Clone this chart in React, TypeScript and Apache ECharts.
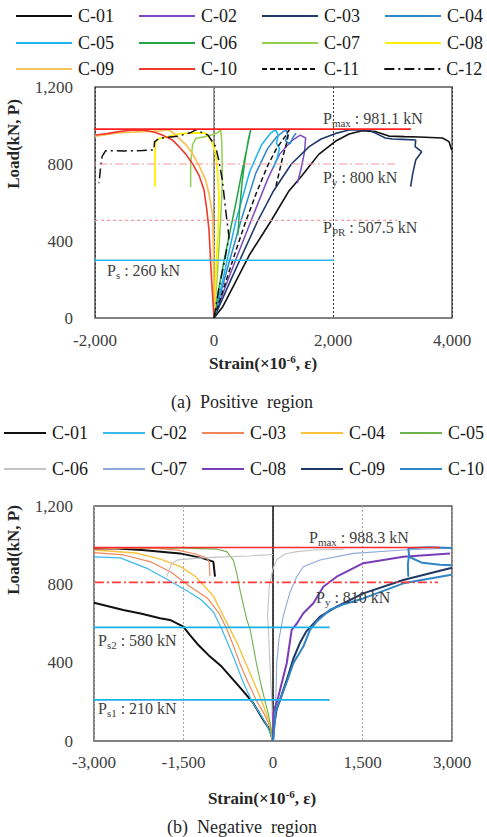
import { useEffect, useRef } from 'react';
import * as echarts from 'echarts';

const FONT = '"Liberation Serif", "Times New Roman", serif';

// ---------------- (a) Positive region ----------------
const A_X_RANGE = [-2000, 4000];
const A_X_STEP = 2000;
const A_Y_RANGE = [0, 1200];
const A_Y_STEP = 400;
const A_NAMES = ['C-01', 'C-02', 'C-03', 'C-04', 'C-05', 'C-06', 'C-07', 'C-08', 'C-09', 'C-10', 'C-11', 'C-12'];

const A_C01 = [[0, 0], [150, 60], [300, 150], [600, 330], [950, 500], [1260, 660], [1480, 740], [1760, 850], [2040, 918], [2270, 956], [2490, 973], [2720, 968], [2940, 945], [3200, 942], [3450, 940], [3840, 935], [3950, 916], [3995, 873]];
const A_C02 = [[0, 0], [200, 170], [400, 330], [616, 500], [900, 720], [1100, 850], [1300, 920], [1450, 950], [1540, 935], [1520, 860], [1460, 770], [1400, 700]];
const A_C03 = [[0, 0], [300, 210], [728, 500], [1000, 660], [1300, 800], [1600, 890], [1800, 930], [2045, 959], [2270, 977], [2600, 977], [2720, 959], [2880, 935], [3000, 930], [3165, 928], [3390, 925], [3380, 890], [3490, 864], [3390, 821], [3340, 750], [3305, 682]];
const A_C04 = [[0, 0], [200, 230], [448, 500], [700, 750], [900, 880], [1050, 940], [1150, 965], [1210, 977], [1240, 950], [1200, 920], [1280, 905], [1330, 940], [1380, 960]];
const A_C05 = [[0, 0], [150, 200], [364, 500], [600, 760], [800, 900], [950, 960], [1036, 977], [1080, 950], [1050, 910], [1100, 880], [1060, 830], [1000, 780]];
const A_C06 = [[0, 0], [80, 150], [170, 300], [270, 450], [370, 600], [470, 760], [560, 890], [616, 977], [580, 930], [520, 820], [470, 700], [430, 560], [400, 430]];
const A_C07 = [[0, 0], [50, 200], [84, 370], [120, 560], [140, 717], [135, 850], [129, 925], [112, 977], [50, 960], [-100, 945], [-308, 933], [-360, 900], [-392, 803], [-392, 740], [-392, 680]];
const A_C08 = [[0, 0], [39, 284], [70, 450], [84, 630], [60, 760], [28, 855], [-40, 920], [-140, 960], [-300, 962], [-588, 956], [-800, 940], [-924, 933], [-980, 915], [-992, 860], [-992, 760], [-992, 682]];
const A_C09 = [[0, 0], [0, 145], [-10, 350], [-28, 544], [-80, 640], [-140, 717], [-250, 790], [-364, 855], [-470, 900], [-588, 933], [-680, 960], [-756, 977], [-900, 972], [-1200, 968], [-1600, 962], [-2000, 945]];
const A_C10 = [[0, 0], [-20, 100], [-50, 250], [-84, 457], [-120, 560], [-168, 665], [-250, 740], [-364, 803], [-470, 850], [-588, 890], [-700, 925], [-869, 951], [-1000, 965], [-1205, 977], [-1400, 975], [-1597, 968], [-1800, 958], [-1989, 951]];
const A_C11 = [[0, 0], [200, 190], [400, 380], [532, 500], [700, 640], [900, 790], [1050, 880], [1200, 945], [1260, 977], [1230, 920], [1150, 830], [1040, 682]];
const A_C12 = [[0, 0], [80, 150], [180, 300], [252, 422], [200, 550], [140, 717], [80, 820], [28, 890], [-100, 950], [-308, 977], [-400, 962], [-600, 945], [-924, 933], [-1000, 915], [-1008, 873], [-1200, 870], [-1500, 868], [-1820, 869], [-1880, 840], [-1905, 786], [-1933, 700]];
const A_DATA = [A_C01, A_C02, A_C03, A_C04, A_C05, A_C06, A_C07, A_C08, A_C09, A_C10, A_C11, A_C12];

const A_PMAX = 981.1;
const A_PY = 800;
const A_PPR = 507.5;
const A_PS_LABEL = 260;
const A_PS_LINE = 300; // where the line is drawn in the picture
const A_REF_FROM = -2200;
const A_PMAX_TO = 3310;
const A_PY_TO = 3075;
const A_PPR_TO = 3075;
const A_PS_TO = 2017;

// ---------------- (b) Negative region ----------------
const B_X_RANGE = [-3000, 3000];
const B_X_STEP = 1500;
const B_Y_RANGE = [0, 1200];
const B_Y_STEP = 400;
const B_NAMES = ['C-01', 'C-02', 'C-03', 'C-04', 'C-05', 'C-06', 'C-07', 'C-08', 'C-09', 'C-10'];

const B_C01 = [[0, 0], [-60, 60], [-162, 107], [-330, 193], [-500, 255], [-665, 312], [-860, 380], [-1056, 431], [-1250, 490], [-1391, 541], [-1503, 584], [-1726, 618], [-1894, 627], [-2200, 650], [-2509, 669], [-3000, 706]];
const B_C01_TOP = [[-3000, 982], [-2676, 984], [-2200, 975], [-1559, 958], [-1200, 935], [-1000, 916], [-972, 839]];
const B_C02 = [[0, 0], [-100, 80], [-200, 130], [-357, 204], [-500, 300], [-650, 420], [-760, 500], [-860, 572], [-1000, 660], [-1200, 720], [-1400, 760], [-1800, 830], [-2100, 880], [-2560, 935], [-3000, 940]];
const B_C03 = [[0, 0], [-60, 80], [-150, 140], [-274, 204], [-420, 300], [-560, 400], [-680, 500], [-776, 572], [-900, 650], [-1100, 730], [-1400, 790], [-1700, 860], [-2050, 915], [-2500, 950], [-3000, 962]];
const B_C03_TOP = [[-3000, 980], [-2500, 985], [-2000, 985], [-1600, 975], [-1300, 955], [-1111, 935], [-1070, 915], [-1056, 843]];
const B_C04 = [[0, 0], [-50, 80], [-110, 140], [-190, 204], [-320, 300], [-460, 400], [-600, 500], [-721, 572], [-850, 650], [-1000, 740], [-1300, 840], [-1550, 890], [-1900, 930], [-2300, 960], [-3000, 975]];
const B_C05 = [[0, 0], [-40, 80], [-80, 140], [-134, 204], [-210, 300], [-280, 400], [-340, 500], [-385, 572], [-440, 620], [-500, 700], [-553, 771], [-610, 860], [-665, 924], [-776, 967], [-950, 980], [-1500, 985], [-3000, 985]];
const B_C06 = [[0, 0], [-20, 200], [-60, 450], [-90, 650], [-60, 800], [0, 880], [60, 925], [200, 955], [400, 967], [700, 975], [1200, 980]];
const B_C06_LEFT = [[-1782, 839], [-1700, 905], [-1600, 925], [-1200, 935], [-800, 940], [-400, 945], [0, 952]];
const B_C07 = [[0, 0], [20, 60], [34, 143], [50, 250], [62, 397], [100, 520], [173, 640], [285, 760], [400, 840], [508, 890], [788, 924], [1346, 958], [2184, 975], [2966, 984]];
const B_C08 = [[0, 0], [6, 141], [89, 226], [230, 397], [313, 567], [400, 600], [508, 652], [676, 703], [843, 788], [1067, 839], [1514, 908], [2184, 941], [2966, 958]];
const B_C09 = [[0, 0], [20, 80], [60, 160], [117, 209], [250, 330], [341, 420], [450, 500], [560, 560], [620, 580], [788, 635], [1067, 686], [1514, 754], [2184, 822], [2966, 882], [3000, 885]];
const B_C10 = [[0, 0], [30, 100], [50, 160], [117, 209], [230, 300], [341, 397], [508, 482], [620, 567], [732, 610], [955, 670], [1200, 700], [1514, 728], [2184, 805], [2966, 848], [3000, 850]];
const B_C10_B = [[2268, 839], [2260, 900], [2280, 950], [2268, 984], [2600, 990], [3000, 985]];
const B_C10_C = [[2280, 941], [2500, 910], [2800, 900], [3000, 897]];
const B_DATA = [B_C01, B_C02, B_C03, B_C04, B_C05, B_C06, B_C07, B_C08, B_C09, B_C10];

const B_PMAX = 988.3;
const B_PY = 810;
const B_PS2 = 580;
const B_PS1 = 210;
const B_REF_FROM = -3270;
const B_PMAX_TO = 2800;
const B_PY_TO = 2765;
const B_PS_TO = 950;

// ---------------- styles ----------------
const A_STYLE = [
  { c: '#111111', w: 1.6 },
  { c: '#7b4cc0', w: 1.5 },
  { c: '#203a6c', w: 1.6 },
  { c: '#2f86c9', w: 1.5 },
  { c: '#1db3ef', w: 1.5 },
  { c: '#22a447', w: 1.5 },
  { c: '#92d050', w: 1.5 },
  { c: '#fff000', w: 1.8 },
  { c: '#f7c35a', w: 1.8 },
  { c: '#ef3a2f', w: 1.6 },
  { c: '#111111', w: 1.5, t: [5, 3] },
  { c: '#111111', w: 1.5, t: [10, 4, 2, 4] },
];
const B_STYLE = [
  { c: '#111111', w: 2 },
  { c: '#3cb8ee', w: 1.2 },
  { c: '#f0875a', w: 1.2 },
  { c: '#f7c23e', w: 1.4 },
  { c: '#6fb14d', w: 1.1 },
  { c: '#c4c4c4', w: 1.1 },
  { c: '#8eaadb', w: 1.1 },
  { c: '#7a3db8', w: 2 },
  { c: '#1f3864', w: 2 },
  { c: '#2f85c5', w: 2 },
];

const fmt = (v: number) => v.toLocaleString('en-US');

function curve(name: string, data: number[][], st: any, idx: number, z = 3) {
  return {
    type: 'line',
    name,
    data,
    xAxisIndex: idx,
    yAxisIndex: idx,
    symbol: 'none',
    showSymbol: false,
    silent: true,
    z,
    lineStyle: { color: st.c, width: st.w, type: st.t || 'solid' },
    itemStyle: { color: st.c },
  };
}

function refLine(y: number, from: number, to: number, idx: number, color: string, width: number, type: any, z = 4) {
  return {
    type: 'line',
    data: [[from, y], [to, y]],
    xAxisIndex: idx,
    yAxisIndex: idx,
    symbol: 'none',
    silent: true,
    clip: false,
    z,
    lineStyle: { color, width, type },
  };
}

function vLine(x: number, y0: number, y1: number, idx: number, color: string, width: number) {
  return {
    type: 'line',
    data: [[x, y0], [x, y1]],
    xAxisIndex: idx,
    yAxisIndex: idx,
    symbol: 'none',
    silent: true,
    z: 2,
    lineStyle: { color, width },
  };
}

const axisLabelStyle = { fontFamily: FONT, fontSize: 17, color: '#404040' };

function legendRow(names: string[], left: number, top: number, itemWidth: number, gap: number) {
  return {
    data: names,
    left,
    top,
    width: 600,
    orient: 'horizontal',
    itemWidth,
    itemHeight: 3,
    itemGap: gap,
    padding: 0,
    selectedMode: false,
    formatter: (n: string) => n.slice(2),
    itemStyle: { opacity: 0 },
    lineStyle: { width: 2 },
    textStyle: { fontFamily: FONT, fontSize: 18, color: '#1a1a1a', padding: [0, 0, 0, 1] },
  };
}

function subLabel(x: number, y: number, main: string, sub: string, rest: string) {
  return {
    type: 'text',
    x,
    y,
    z: 50,
    style: {
      text: `{a|${main}}{b|${sub}}{a|${rest}}`,
      align: 'left',
      verticalAlign: 'middle',
      fill: '#404040',
      rich: {
        a: { fontFamily: FONT, fontSize: 16, lineHeight: 20, fill: '#404040' },
        b: { fontFamily: FONT, fontSize: 11, lineHeight: 8, verticalAlign: 'bottom', fill: '#404040' },
      },
    },
  };
}

function strainTitle(x: number, y: number) {
  return {
    type: 'text',
    x,
    y,
    style: {
      text: '{m|Strain(×10}{s|-6}{m|, ε)}',
      align: 'center',
      verticalAlign: 'middle',
      fill: '#262626',
      rich: {
        m: { fontFamily: FONT, fontSize: 17, fontWeight: 'bold', lineHeight: 20, fill: '#262626' },
        s: { fontFamily: FONT, fontSize: 11, fontWeight: 'bold', lineHeight: 11, verticalAlign: 'top', fill: '#262626' },
      },
    },
  };
}

function loadTitle(x: number, y: number) {
  return {
    type: 'text',
    x,
    y,
    rotation: Math.PI / 2,
    style: {
      text: 'Load(kN, P)',
      fontFamily: FONT,
      fontSize: 17,
      fontWeight: 'bold',
      fill: '#262626',
      align: 'center',
      verticalAlign: 'middle',
    },
  };
}

function caption(x: number, y: number, text: string) {
  return {
    type: 'text',
    x,
    y,
    style: { text, fontFamily: FONT, fontSize: 18, fill: '#262626', align: 'center', verticalAlign: 'middle' },
  };
}

export default function App() {
  const ref = useRef<HTMLDivElement>(null);

  useEffect(() => {
    document.body.style.margin = '0';
    if (!ref.current) return;
    const chart = echarts.init(ref.current, undefined, { renderer: 'svg' });

    const aNames = A_NAMES.map((n) => 'a:' + n);
    const bNames = B_NAMES.map((n) => 'b:' + n);

    const series: any[] = [];
    // axis zero lines
    series.push(vLine(0, 0, 1200, 0, '#808080', 1.5));
    series.push(vLine(0, 0, 1200, 1, '#111111', 1.5));

    A_DATA.forEach((d, i) => series.push(curve(aNames[i], d, A_STYLE[i], 0)));
    B_DATA.forEach((d, i) => series.push(curve(bNames[i], d, B_STYLE[i], 1)));
    series.push(curve(bNames[0], B_C01_TOP, B_STYLE[0], 1));
    series.push(curve(bNames[2], B_C03_TOP, B_STYLE[2], 1));
    series.push(curve(bNames[5], B_C06_LEFT, B_STYLE[5], 1));
    series.push(curve(bNames[9], B_C10_B, B_STYLE[9], 1));
    series.push(curve(bNames[9], B_C10_C, B_STYLE[9], 1));

    // reference lines (a)
    series.push(refLine(A_PMAX, A_REF_FROM, A_PMAX_TO, 0, '#ff1f1f', 1.6, 'solid'));
    series.push(refLine(A_PY, A_REF_FROM, A_PY_TO, 0, '#f39a9a', 1.2, [8, 3, 2, 3]));
    series.push(refLine(A_PPR, A_REF_FROM, A_PPR_TO, 0, '#f59b9b', 1.2, [3, 3]));
    series.push(refLine(A_PS_LINE, A_REF_FROM, A_PS_TO, 0, '#2bb7ea', 1.6, 'solid'));
    // reference lines (b)
    series.push(refLine(B_PMAX, B_REF_FROM, B_PMAX_TO, 1, '#ff2a2a', 1.6, 'solid'));
    series.push(refLine(B_PY, B_REF_FROM, B_PY_TO, 1, '#ff3b3b', 1.6, [9, 3, 2, 3]));
    series.push(refLine(B_PS2, B_REF_FROM, B_PS_TO, 1, '#17b1ee', 1.6, 'solid'));
    series.push(refLine(B_PS1, B_REF_FROM, B_PS_TO, 1, '#17b1ee', 1.6, 'solid'));

    const option: any = {
      animation: false,
      textStyle: { fontFamily: FONT },
      legend: [
        legendRow(aNames.slice(0, 4), 15, 7, 56, 24),
        legendRow(aNames.slice(4, 8), 15, 34, 56, 24),
        legendRow(aNames.slice(8, 12), 15, 60, 56, 24),
        legendRow(bNames.slice(0, 5), 3, 424, 42, 14),
        legendRow(bNames.slice(5, 10), 3, 460, 42, 14),
      ],
      grid: [
        { left: 95, top: 87, width: 357, height: 231, show: true, borderColor: '#595959', borderWidth: 1.5, backgroundColor: 'transparent' },
        { left: 94, top: 506, width: 358, height: 235, show: true, borderColor: '#595959', borderWidth: 1.5, backgroundColor: 'transparent' },
      ],
      xAxis: [
        {
          type: 'value', gridIndex: 0, min: A_X_RANGE[0], max: A_X_RANGE[1], interval: A_X_STEP,
          axisLine: { show: false }, axisTick: { show: false },
          splitLine: { show: true, lineStyle: { color: '#333333', width: 1, type: [2, 2] } },
          axisLabel: { ...axisLabelStyle, margin: 14, formatter: fmt },
        },
        {
          type: 'value', gridIndex: 1, min: B_X_RANGE[0], max: B_X_RANGE[1], interval: B_X_STEP,
          axisLine: { show: false }, axisTick: { show: false },
          splitLine: { show: true, lineStyle: { color: '#a6a6a6', width: 1, type: [2, 2] } },
          axisLabel: { ...axisLabelStyle, margin: 13, formatter: fmt },
        },
      ],
      yAxis: [
        {
          type: 'value', gridIndex: 0, min: A_Y_RANGE[0], max: A_Y_RANGE[1], interval: A_Y_STEP,
          axisLine: { show: false }, axisTick: { show: false }, splitLine: { show: false },
          axisLabel: { ...axisLabelStyle, margin: 22, formatter: fmt },
        },
        {
          type: 'value', gridIndex: 1, min: B_Y_RANGE[0], max: B_Y_RANGE[1], interval: B_Y_STEP,
          axisLine: { show: false }, axisTick: { show: false }, splitLine: { show: false },
          axisLabel: { ...axisLabelStyle, margin: 21, formatter: fmt },
        },
      ],
      series,
      graphic: [
        loadTitle(13, 144),
        loadTitle(13, 550),
        strainTitle(263, 363),
        strainTitle(262, 798),
        caption(242, 402, '(a)  Positive  region'),
        caption(242, 827, '(b)  Negative  region'),
        subLabel(323, 118, 'P', 'max', ` : ${A_PMAX} kN`),
        subLabel(323, 177, 'P', 'y', ` : ${A_PY} kN`),
        subLabel(323, 227, 'P', 'PR', ` : ${A_PPR} kN`),
        subLabel(107, 270, 'P', 's', ` : ${A_PS_LABEL} kN`),
        subLabel(309, 537, 'P', 'max', ` : ${B_PMAX} kN`),
        subLabel(316, 597, 'P', 'y', ` : ${B_PY} kN`),
        subLabel(98, 640, 'P', 's2', ` : ${B_PS2} kN`),
        subLabel(98, 708, 'P', 's1', ` : ${B_PS1} kN`),
      ],
    };

    chart.setOption(option);
    return () => chart.dispose();
  }, []);

  return <div ref={ref} style={{ width: 487, height: 837 }} />;
}
